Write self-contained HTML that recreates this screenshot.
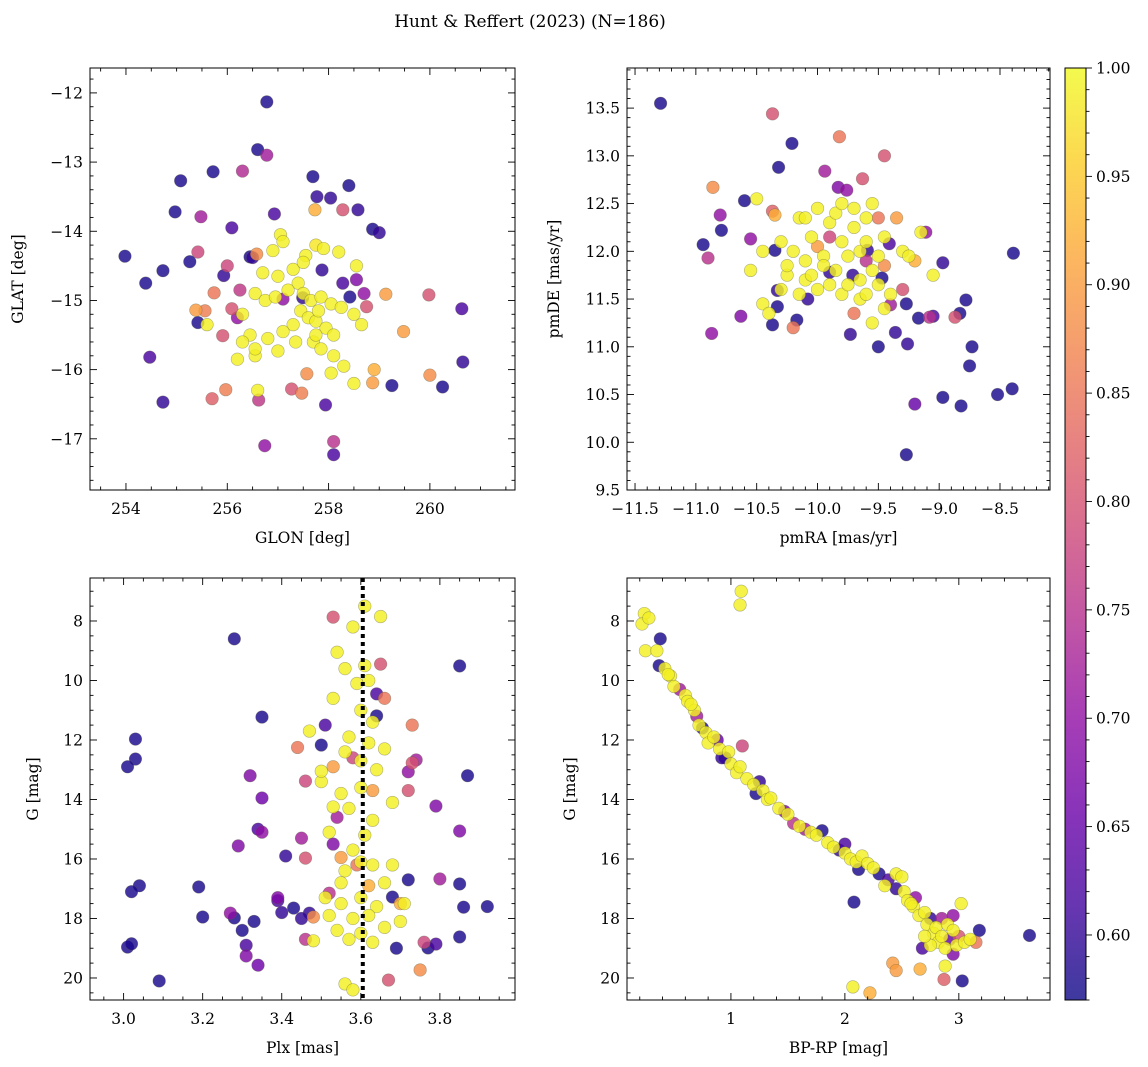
<!DOCTYPE html>
<html><head><meta charset="utf-8">
<style>
html,body{margin:0;padding:0;background:#fff;}
svg{display:block;font-family:"DejaVu Serif","Liberation Serif",serif;}
</style></head>
<body>
<svg id="fig" width="1148" height="1067" viewBox="0 0 1148 1067">
<text x="530" y="27" text-anchor="middle" font-size="17" fill="#000">Hunt &amp; Reffert (2023) (N=186)</text>
</svg>
<script>
// ---- Data: [x, y, membership probability] ----
const glonGlat = [
[256.78,-12.13,0.58],[256.6,-12.82,0.58],[255.08,-13.27,0.58],[255.72,-13.14,0.58],[254.97,-13.72,0.58],
[257.69,-13.21,0.58],[258.4,-13.34,0.58],[257.77,-13.5,0.6],[258.04,-13.52,0.6],[258.58,-13.69,0.6],
[256.09,-13.95,0.62],[256.93,-13.75,0.62],[258.87,-13.97,0.58],[259.0,-14.02,0.6],[253.98,-14.36,0.58],
[254.73,-14.57,0.58],[255.26,-14.44,0.58],[256.45,-14.37,0.58],[256.5,-14.38,0.6],[254.39,-14.75,0.58],
[255.93,-14.64,0.6],[258.42,-14.95,0.58],[257.87,-14.56,0.6],[258.28,-14.75,0.62],[255.42,-15.32,0.58],
[260.63,-15.12,0.62],[254.47,-15.82,0.62],[254.73,-16.47,0.6],[257.94,-16.51,0.62],[259.25,-16.23,0.58],
[260.25,-16.25,0.58],[260.65,-15.89,0.6],[256.74,-17.1,0.7],[258.1,-17.23,0.62],[258.1,-17.04,0.75],
[257.49,-14.96,0.6],[256.78,-12.9,0.72],[256.3,-13.13,0.74],[255.48,-13.79,0.72],[258.28,-13.69,0.8],
[255.42,-14.3,0.78],[256.09,-15.12,0.8],[255.56,-15.15,0.86],[255.74,-14.89,0.85],[255.91,-15.51,0.8],
[255.97,-16.29,0.86],[255.7,-16.42,0.82],[256.62,-16.44,0.76],[257.27,-16.28,0.8],[257.47,-16.34,0.86],
[257.57,-16.06,0.88],[259.98,-14.92,0.8],[260.0,-16.08,0.88],[259.13,-14.91,0.9],[258.75,-15.09,0.8],
[258.87,-16.19,0.9],[259.48,-15.45,0.9],[255.38,-15.14,0.9],[256.58,-14.33,0.88],[257.73,-13.69,0.92],
[258.7,-14.9,0.7],[258.55,-14.7,0.68],[256.2,-15.25,0.7],[256.0,-14.5,0.78],[258.9,-16.0,0.92],
[256.25,-14.85,0.76],[257.1,-14.98,0.7],
[257.05,-14.05,0.99],[257.1,-14.15,0.99],[256.9,-14.28,0.99],[257.75,-14.2,0.98],[257.9,-14.25,0.99],
[258.2,-14.3,0.99],[257.55,-14.35,0.99],[257.3,-14.55,0.99],[256.7,-14.6,0.99],[257.0,-14.65,0.99],
[257.4,-14.75,0.99],[256.55,-14.9,0.99],[256.75,-15.0,0.99],[256.95,-14.95,0.99],[257.2,-14.85,0.99],
[257.5,-14.9,0.99],[257.65,-15.0,0.99],[257.85,-14.95,0.99],[258.05,-15.05,0.99],[258.25,-15.1,0.99],
[258.5,-15.2,0.99],[257.45,-15.15,0.99],[257.6,-15.25,0.99],[257.75,-15.3,0.99],[257.95,-15.4,0.99],
[258.1,-15.5,0.99],[257.3,-15.35,0.99],[257.1,-15.45,0.99],[256.8,-15.55,0.99],[256.45,-15.5,0.99],
[256.3,-15.6,0.99],[256.2,-15.85,0.99],[256.55,-15.8,0.99],[256.55,-15.7,0.99],[257.0,-15.73,0.99],
[257.35,-15.6,0.99],[257.7,-15.6,0.99],[257.85,-15.7,0.99],[258.1,-15.8,0.99],[258.05,-16.05,0.99],
[258.3,-15.95,0.99],[258.5,-16.2,0.99],[256.6,-16.3,0.99],[257.5,-14.45,0.99],[258.55,-14.5,0.99],
[255.6,-15.35,0.99],[258.65,-15.35,0.99],[256.3,-15.2,0.99],[257.75,-15.5,0.99],[257.8,-15.15,0.99]
];
const pmraPmde = [
[-11.29,13.55,0.58],[-10.94,12.07,0.58],[-10.79,12.22,0.58],[-10.6,12.53,0.58],[-10.35,12.01,0.58],
[-10.32,12.88,0.58],[-10.21,13.13,0.58],[-10.33,11.59,0.6],[-10.33,11.42,0.58],[-10.37,11.23,0.58],
[-10.08,11.5,0.6],[-10.17,11.28,0.58],[-9.9,11.78,0.6],[-9.71,11.75,0.6],[-9.59,12.01,0.6],
[-9.47,11.72,0.58],[-9.41,12.08,0.62],[-9.36,11.15,0.6],[-9.5,11.0,0.58],[-9.27,11.45,0.58],
[-9.27,9.87,0.58],[-9.26,11.03,0.6],[-9.17,11.3,0.58],[-8.97,11.88,0.6],[-8.83,11.35,0.58],
[-8.78,11.49,0.58],[-8.97,10.47,0.58],[-8.82,10.38,0.58],[-8.73,11.0,0.58],[-8.75,10.8,0.58],
[-8.52,10.5,0.58],[-8.4,10.56,0.58],[-8.39,11.98,0.58],[-9.05,11.32,0.62],[-9.73,11.13,0.6],
[-10.9,11.93,0.75],[-10.8,12.38,0.7],[-10.55,12.13,0.7],[-10.63,11.32,0.68],[-10.37,13.44,0.8],
[-10.37,12.42,0.82],[-9.94,12.84,0.72],[-9.83,12.67,0.68],[-9.76,12.64,0.7],[-9.63,12.76,0.8],
[-9.45,13.0,0.8],[-9.82,13.2,0.85],[-9.08,11.31,0.75],[-9.11,12.2,0.7],[-9.2,10.4,0.65],
[-9.4,11.44,0.72],[-8.87,11.31,0.8],[-10.2,11.2,0.85],[-10.86,12.67,0.88],[-10.87,11.14,0.7],
[-9.9,12.15,0.78],[-9.6,11.9,0.75],[-9.5,12.35,0.85],[-9.35,12.35,0.9],[-9.2,11.9,0.92],
[-10.0,12.05,0.9],[-9.7,11.35,0.85],[-9.45,11.85,0.88],[-10.35,12.38,0.92],[-9.3,11.6,0.8],
[-10.5,12.55,0.99],[-10.45,11.45,0.99],[-10.4,11.35,0.99],[-10.55,11.8,0.99],[-10.45,12.0,0.99],
[-10.3,12.1,0.99],[-10.2,12.0,0.99],[-10.15,12.35,0.99],[-10.1,11.9,0.99],[-10.25,11.75,0.99],
[-10.1,11.7,0.99],[-10.0,11.6,0.99],[-9.95,11.95,0.99],[-9.9,12.3,0.99],[-9.85,12.4,0.99],
[-9.8,12.1,0.99],[-9.75,11.95,0.99],[-9.7,12.25,0.99],[-9.65,12.0,0.99],[-9.6,12.1,0.99],
[-9.55,11.8,0.99],[-9.5,11.65,0.99],[-9.65,11.7,0.99],[-9.85,11.8,0.99],[-9.95,11.85,0.99],
[-10.05,12.15,0.99],[-10.0,12.45,0.99],[-9.8,12.5,0.99],[-9.7,12.45,0.99],[-9.6,12.35,0.99],
[-9.55,12.5,0.99],[-9.45,12.15,0.99],[-9.4,11.55,0.99],[-9.3,12.0,0.99],[-9.25,11.95,0.99],
[-9.05,11.75,0.99],[-9.15,12.2,0.99],[-9.45,11.4,0.99],[-9.65,11.5,0.99],[-9.8,11.55,0.99],
[-10.05,11.75,0.99],[-10.25,11.85,0.99],[-10.3,11.6,0.99],[-10.1,12.35,0.99],[-9.75,11.65,0.99],
[-9.55,11.25,0.99],[-9.5,11.95,0.99],[-9.9,11.65,0.99],[-10.15,11.55,0.99],[-9.6,11.55,0.99]
];
const plxG = [
[3.28,8.6,0.58],[3.35,11.23,0.58],[3.03,11.97,0.58],[3.03,12.64,0.58],[3.01,12.9,0.58],
[3.04,16.9,0.58],[3.02,17.1,0.58],[3.01,18.96,0.58],[3.02,18.85,0.58],[3.09,20.1,0.58],
[3.19,16.94,0.58],[3.2,17.95,0.58],[3.28,17.98,0.58],[3.3,18.4,0.58],[3.31,18.9,0.62],
[3.33,18.1,0.58],[3.34,15.0,0.62],[3.39,17.4,0.62],[3.43,17.65,0.58],[3.5,12.17,0.58],
[3.68,17.28,0.58],[3.69,19.0,0.58],[3.77,18.99,0.58],[3.79,18.86,0.62],[3.85,9.51,0.58],
[3.87,13.2,0.58],[3.85,16.84,0.58],[3.92,17.6,0.58],[3.86,17.62,0.58],[3.85,18.62,0.58],
[3.47,17.82,0.6],[3.64,11.19,0.58],[3.64,10.45,0.62],[3.72,16.7,0.58],[3.41,15.9,0.6],
[3.51,11.5,0.62],[3.45,18.0,0.6],[3.4,17.8,0.6],
[3.32,13.2,0.68],[3.35,13.95,0.66],[3.29,15.56,0.68],[3.35,15.1,0.7],[3.45,15.3,0.72],
[3.39,17.3,0.68],[3.46,18.7,0.75],[3.34,19.57,0.66],[3.31,19.26,0.68],[3.27,17.82,0.7],
[3.53,15.5,0.68],[3.54,14.6,0.72],[3.72,13.07,0.7],[3.74,12.67,0.72],[3.79,14.22,0.68],
[3.85,15.06,0.68],[3.8,16.67,0.72],[3.46,13.38,0.78],[3.53,7.87,0.8],[3.65,9.45,0.8],
[3.73,11.5,0.85],[3.73,12.77,0.8],[3.72,13.7,0.8],[3.53,12.9,0.9],[3.46,15.97,0.8],
[3.55,15.95,0.9],[3.63,13.7,0.9],[3.48,17.95,0.88],[3.75,19.73,0.88],[3.67,20.07,0.8],
[3.44,12.25,0.85],[3.66,10.6,0.85],[3.76,18.8,0.78],[3.59,16.2,0.85],[3.62,16.9,0.92],
[3.52,17.15,0.75],[3.7,17.5,0.92],[3.58,12.6,0.78],
[3.61,7.5,0.99],[3.65,7.85,0.99],[3.58,8.2,0.99],[3.54,9.05,0.99],[3.56,9.6,0.99],[3.61,9.5,0.99],
[3.62,10.0,0.99],[3.53,10.6,0.99],[3.59,10.1,0.99],[3.6,11.0,0.99],[3.63,11.4,0.99],[3.57,11.9,0.99],
[3.56,12.4,0.99],[3.62,12.1,0.99],[3.6,12.7,0.99],[3.64,13.0,0.99],[3.5,13.4,0.99],[3.55,13.8,0.99],
[3.6,13.6,0.99],[3.57,14.3,0.99],[3.53,14.25,0.99],[3.63,14.7,0.99],[3.52,15.1,0.99],[3.58,15.7,0.99],
[3.6,16.1,0.99],[3.56,16.4,0.99],[3.63,16.2,0.99],[3.66,16.8,0.99],[3.6,17.3,0.99],[3.64,17.6,0.99],
[3.55,17.5,0.99],[3.51,17.3,0.99],[3.58,18.0,0.99],[3.62,17.9,0.99],[3.66,18.3,0.99],[3.54,18.4,0.99],
[3.57,18.7,0.99],[3.6,18.5,0.99],[3.48,18.75,0.99],[3.63,18.8,0.99],[3.7,18.1,0.99],[3.71,17.5,0.99],
[3.68,16.2,0.99],[3.55,16.8,0.99],[3.61,15.2,0.99],[3.56,20.2,0.99],[3.58,20.4,0.99],[3.47,11.7,0.99],
[3.5,13.05,0.99],[3.66,12.3,0.99],[3.68,14.1,0.99],[3.52,17.9,0.99]
];
const bprpG = [
[0.24,7.75,0.99],[0.22,8.1,0.99],[0.28,7.9,0.99],[0.25,9.0,0.99],[0.35,9.0,0.99],[0.38,8.6,0.58],
[0.37,9.5,0.58],[0.42,9.6,0.99],[0.47,9.85,0.99],[0.5,10.2,0.99],[0.55,10.3,0.72],[0.6,10.5,0.99],
[0.62,10.7,0.99],[0.68,11.0,0.99],[0.7,11.2,0.72],[0.72,11.5,0.99],[0.75,11.6,0.58],[0.78,11.75,0.99],
[0.8,12.1,0.99],[0.85,11.9,0.99],[0.88,12.0,0.65],[0.9,12.3,0.99],[0.95,12.6,0.58],[0.98,12.4,0.99],
[1.0,12.8,0.99],[1.05,13.1,0.99],[1.08,12.9,0.99],[1.1,12.2,0.78],[1.14,13.3,0.99],[1.2,13.5,0.99],
[1.22,13.8,0.58],[1.28,13.7,0.99],[1.32,14.0,0.99],[1.35,13.95,0.99],[1.42,14.3,0.99],[1.47,14.4,0.68],
[1.5,14.5,0.99],[1.6,14.9,0.99],[1.65,15.0,0.72],[1.7,15.1,0.99],[1.75,15.2,0.99],[1.8,15.05,0.58],
[1.85,15.45,0.99],[1.9,15.6,0.99],[1.95,15.7,0.6],[2.0,15.8,0.99],[2.05,16.0,0.99],[2.1,16.1,0.99],
[2.12,16.35,0.58],[2.15,15.9,0.99],[2.2,16.15,0.99],[2.25,16.3,0.99],[2.3,16.5,0.58],[2.35,16.9,0.99],
[2.38,16.7,0.62],[2.45,16.5,0.99],[2.5,16.6,0.99],[2.52,17.1,0.99],[2.55,17.4,0.99],[2.6,17.6,0.99],
[2.62,17.3,0.7],[2.65,17.9,0.99],[2.7,17.8,0.99],[2.72,18.2,0.99],[2.75,18.0,0.6],[2.78,18.5,0.99],
[2.8,18.3,0.99],[2.82,18.8,0.99],[2.85,18.6,0.99],[2.88,19.0,0.99],[2.9,18.2,0.99],[2.92,18.7,0.65],
[2.95,18.4,0.99],[2.98,18.9,0.99],[3.0,18.6,0.8],[3.02,17.5,0.99],[3.05,18.8,0.99],[3.1,18.7,0.99],
[3.18,18.4,0.58],[3.15,18.8,0.85],[2.95,19.2,0.68],[2.88,19.6,0.99],[2.75,18.9,0.99],[2.7,18.6,0.99],
[2.68,19.0,0.62],[2.85,18.0,0.72],[2.95,17.9,0.7],[2.58,17.5,0.99],[2.45,17.0,0.6],[2.0,15.5,0.62],
[1.55,14.8,0.75],[1.25,13.4,0.6],[0.92,12.6,0.6],[0.65,10.8,0.99],[0.45,9.8,0.99],
[1.09,7.0,0.99],[1.08,7.46,0.99],[3.62,18.57,0.58],[2.08,17.45,0.58],[2.07,20.3,0.99],
[2.22,20.5,0.92],[2.42,19.5,0.9],[2.45,19.75,0.9],[2.66,19.7,0.92],[2.87,20.05,0.82],[3.03,20.1,0.58]
];
// ---- colormap (plasma) ----
const vmin = 0.57, vmax = 1.0;
const plasma = [[13,8,135],[65,4,157],[106,0,168],[143,13,164],[177,42,144],[204,71,120],[225,100,98],[242,132,75],[252,166,54],[252,206,37],[240,249,33]];
function cmap(v){
  let t = Math.max(0, Math.min(1, (v - vmin) / (vmax - vmin)));
  const f = t * 10, i = Math.min(9, Math.floor(f)), r = f - i;
  const a = plasma[i], b = plasma[i + 1];
  return 'rgb(' + [0,1,2].map(k => Math.round(a[k] + (b[k] - a[k]) * r)).join(',') + ')';
}
const NS = 'http://www.w3.org/2000/svg';
const svg = document.getElementById('fig');
function el(tag, attrs, parent){
  const e = document.createElementNS(NS, tag);
  for (const k in attrs) e.setAttribute(k, attrs[k]);
  (parent || svg).appendChild(e);
  return e;
}
function fmt(v, d){ let s = v.toFixed(d); return s.replace('-', '\u2212'); }

function panel(cfg){
  const g = el('g', {});
  
  
  const {x0, x1, y0, y1, xmin, xmax, ymin, ymax} = cfg;
  const sx = v => x0 + (v - xmin) / (xmax - xmin) * (x1 - x0);
  const sy = cfg.invert ? (v => y0 + (v - ymin) / (ymax - ymin) * (y1 - y0))
                        : (v => y1 - (v - ymin) / (ymax - ymin) * (y1 - y0));
  const clipId = 'clip-' + cfg.name;
  const cp = el('clipPath', {id: clipId}, g);
  el('rect', {x: x0, y: y0, width: x1 - x0, height: y1 - y0}, cp);
  const pts = el('g', {'clip-path': 'url(#' + clipId + ')'}, g);
  
  
  const sorted = cfg.data.slice().sort((a, b) => a[2] - b[2]);
  sorted.forEach(d => {
    const c = el('circle', {cx: sx(d[0]), cy: sy(d[1]), r: 6.3, fill: cmap(d[2]), 'fill-opacity': 0.82, stroke: '#5a5a40', 'stroke-opacity': 0.45, 'stroke-width': 0.6}, pts);
    
    
  });
  if (cfg.vline !== undefined) {
    const ln = el('line', {x1: sx(cfg.vline), x2: sx(cfg.vline), y1: y0, y2: y1, stroke: '#000', 'stroke-width': 4, 'stroke-dasharray': '4,4'}, pts);
    
    
  }
  const eps = 1e-9;
  const tk = el('g', {stroke: '#000', 'stroke-width': 0.9}, g);
  for (let v = Math.ceil(xmin / cfg.xminor - eps) * cfg.xminor; v <= xmax + eps; v += cfg.xminor) {
    const major = Math.abs(v / cfg.xmajor - Math.round(v / cfg.xmajor)) < 1e-6;
    const L = major ? 7 : 3.5, X = sx(v);
    el('line', {x1: X, x2: X, y1: y1, y2: y1 - L}, tk);
    el('line', {x1: X, x2: X, y1: y0, y2: y0 + L}, tk);
    if (major) {
      const t = el('text', {x: X, y: y1 + 24, 'text-anchor': 'middle', 'font-size': 15.5, fill: '#000', stroke: 'none'}, g);
      t.textContent = fmt(Math.round(v / cfg.xmajor) * cfg.xmajor, cfg.xdec);
      
      
    }
  }
  for (let v = Math.ceil(ymin / cfg.yminor - eps) * cfg.yminor; v <= ymax + eps; v += cfg.yminor) {
    const major = Math.abs(v / cfg.ymajor - Math.round(v / cfg.ymajor)) < 1e-6;
    const L = major ? 7 : 3.5, Y = sy(v);
    el('line', {x1: x0, x2: x0 + L, y1: Y, y2: Y}, tk);
    el('line', {x1: x1, x2: x1 - L, y1: Y, y2: Y}, tk);
    if (major) {
      const t = el('text', {x: x0 - 7, y: Y + 5.5, 'text-anchor': 'end', 'font-size': 15.5, fill: '#000', stroke: 'none'}, g);
      t.textContent = fmt(Math.round(v / cfg.ymajor) * cfg.ymajor, cfg.ydec);
      
      
    }
  }
  el('rect', {x: x0, y: y0, width: x1 - x0, height: y1 - y0, fill: 'none', stroke: '#000', 'stroke-width': 1}, g);
  const xl = el('text', {x: (x0 + x1) / 2, y: y1 + 53, 'text-anchor': 'middle', 'font-size': 15.5, fill: '#000'}, g);
  xl.textContent = cfg.xlabel;
  
  
  const yx = cfg.ylabx, yy = (y0 + y1) / 2;
  const yl = el('text', {x: yx, y: yy, 'text-anchor': 'middle', 'font-size': 15.5, fill: '#000', transform: 'rotate(-90 ' + yx + ' ' + yy + ')'}, g);
  yl.textContent = cfg.ylabel;
  
  
}

panel({name: 'glon-glat-panel', data: glonGlat, x0: 90, x1: 515, y0: 68, y1: 490, xmin: 253.29, xmax: 261.68, ymin: -17.74, ymax: -11.64,
  xmajor: 2, xminor: 0.5, ymajor: 1, yminor: 0.2, xdec: 0, ydec: 0, xlabel: 'GLON [deg]', ylabel: 'GLAT [deg]', ylabx: 23});
panel({name: 'pmra-pmde-panel', data: pmraPmde, x0: 627, x1: 1050, y0: 68, y1: 490, xmin: -11.566, xmax: -8.089, ymin: 9.5, ymax: 13.92,
  xmajor: 0.5, xminor: 0.1, ymajor: 0.5, yminor: 0.1, xdec: 1, ydec: 1, xlabel: 'pmRA [mas/yr]', ylabel: 'pmDE [mas/yr]', ylabx: 559});
panel({name: 'plx-g-panel', data: plxG, x0: 90, x1: 515, y0: 578, y1: 1000, xmin: 2.915, xmax: 3.99, ymin: 6.555, ymax: 20.74, invert: true,
  xmajor: 0.2, xminor: 0.05, ymajor: 2, yminor: 0.5, xdec: 1, ydec: 0, xlabel: 'Plx [mas]', ylabel: 'G [mag]', ylabx: 38, vline: 3.605});
panel({name: 'cmd-panel', data: bprpG, x0: 627, x1: 1050, y0: 578, y1: 1000, xmin: 0.088, xmax: 3.8, ymin: 6.555, ymax: 20.74, invert: true,
  xmajor: 1, xminor: 0.2, ymajor: 2, yminor: 0.5, xdec: 0, ydec: 0, xlabel: 'BP-RP [mag]', ylabel: 'G [mag]', ylabx: 575});

// ---- colorbar ----
const cbTicks = [0.60, 0.65, 0.70, 0.75, 0.80, 0.85, 0.90, 0.95, 1.00];
(function(){
  const cx0 = 1065, cx1 = 1086, cy0 = 68, cy1 = 1000;
  const g = el('g', {});
  
  
  const defs = el('defs', {}, g);
  const lg = el('linearGradient', {id: 'cbgrad', x1: 0, y1: 1, x2: 0, y2: 0}, defs);
  for (let i = 0; i <= 20; i++) {
    const v = vmin + (vmax - vmin) * i / 20;
    el('stop', {offset: (i / 20), 'stop-color': cmap(v), 'stop-opacity': 0.8}, lg);
  }
  el('rect', {x: cx0, y: cy0, width: cx1 - cx0, height: cy1 - cy0, fill: 'url(#cbgrad)'}, g);
  el('rect', {x: cx0, y: cy0, width: cx1 - cx0, height: cy1 - cy0, fill: 'none', stroke: '#000', 'stroke-width': 1}, g);
  const sy = v => cy1 - (v - vmin) / (vmax - vmin) * (cy1 - cy0);
  for (let k = 57; k <= 100; k++) {
    const v = k / 100, Y = sy(v), major = k % 5 === 0;
    el('line', {x1: cx1, x2: cx1 + (major ? 6 : 3.5), y1: Y, y2: Y, stroke: '#000', 'stroke-width': 0.9}, g);
  }
  cbTicks.forEach(v => {
    const t = el('text', {x: 1096, y: sy(v) + 5.5, 'font-size': 15.5, fill: '#000'}, g);
    t.textContent = v.toFixed(2);
    
    
  });
})();
</script>
</body></html>
